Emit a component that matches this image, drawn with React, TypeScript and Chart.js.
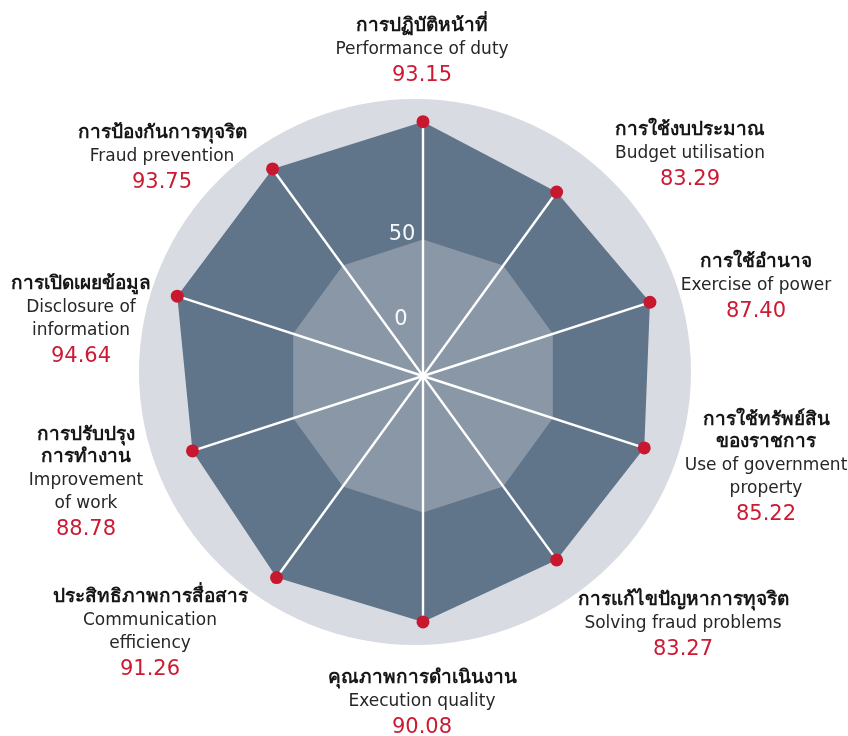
import React, { useEffect, useRef } from 'react';
import { Chart, registerables } from 'chart.js';

Chart.register(...registerables);

// ---------- data ----------
const CATEGORIES_TH: string[][] = [
  ['การปฏิบัติหน้าที่'],
  ['การใช้งบประมาณ'],
  ['การใช้อำนาจ'],
  ['การใช้ทรัพย์สิน', 'ของราชการ'],
  ['การแก้ไขปัญหาการทุจริต'],
  ['คุณภาพการดำเนินงาน'],
  ['ประสิทธิภาพการสื่อสาร'],
  ['การปรับปรุง', 'การทำงาน'],
  ['การเปิดเผยข้อมูล'],
  ['การป้องกันการทุจริต'],
];
const CATEGORIES_EN: string[][] = [
  ['Performance of duty'],
  ['Budget utilisation'],
  ['Exercise of power'],
  ['Use of government', 'property'],
  ['Solving fraud problems'],
  ['Execution quality'],
  ['Communication', 'efficiency'],
  ['Improvement', 'of work'],
  ['Disclosure of', 'information'],
  ['Fraud prevention'],
];
const SCORES: number[] = [93.15, 83.29, 87.4, 85.22, 83.27, 90.08, 91.26, 88.78, 94.64, 93.75];
const INNER_BAND: number[] = [50, 50, 50, 50, 50, 50, 50, 50, 50, 50];
const SCALE_MIN = 0;
const SCALE_MAX = 100;
const TICK_LABELS: string[] = ['50', '0'];

// ---------- layout / style ----------
// first-baseline offset of each label block from the chart centre (px)
const LABEL_OFFSETS: [number, number][] = [
  [-1, -345],
  [267, -241],
  [333, -109],
  [343, 49],
  [260, 229],
  [-1, 307],
  [-273, 226],
  [-337, 64],
  [-342, -87],
  [-261, -238],
];
const FONT_FAMILY = '"DejaVu Sans", "Noto Sans", sans-serif';
const STYLES: Record<string, { font: string; color: string }> = {
  th: { font: `bold 19px ${FONT_FAMILY}`, color: '#161616' },
  en: { font: `17px ${FONT_FAMILY}`, color: '#262626' },
  val: { font: `21px ${FONT_FAMILY}`, color: '#cc1a33' },
};
const GAPS: Record<string, number> = {
  'th-th': 22,
  'th-en': 22.5,
  'en-en': 23.5,
  'en-val': 27,
};
const RED = '#c8182f';
const DARK = '#60748a';
const LIGHT = '#8a97a7';
const BG = '#d8dbe1';

const overlayPlugin = {
  id: 'overlay',
  beforeDraw(chart: any) {
    // soft grey backdrop disc behind the radar
    const scale = chart.scales.r;
    const ctx = chart.ctx;
    const r = scale.getDistanceFromCenterForValue(SCALE_MAX);
    ctx.save();
    ctx.fillStyle = BG;
    ctx.beginPath();
    ctx.ellipse(scale.xCenter - 8, scale.yCenter - 4, r + 3, r, 0, 0, Math.PI * 2);
    ctx.fill();
    ctx.restore();
  },
  beforeDatasetsDraw(chart: any) {
    const scale = chart.scales.r;
    const ctx = chart.ctx;
    const cx = scale.xCenter;
    const cy = scale.yCenter;
    ctx.save();
    ctx.strokeStyle = '#ffffff';
    ctx.lineWidth = 2.4;
    SCORES.forEach((v, i) => {
      const p = scale.getPointPositionForValue(i, v);
      ctx.beginPath();
      ctx.moveTo(cx, cy);
      ctx.lineTo(p.x, p.y);
      ctx.stroke();
    });
    // tick labels
    const r50 = scale.getDistanceFromCenterForValue(50);
    ctx.fillStyle = 'rgba(255,255,255,0.95)';
    ctx.font = `21px ${FONT_FAMILY}`;
    ctx.textAlign = 'center';
    ctx.textBaseline = 'alphabetic';
    ctx.fillText(TICK_LABELS[0], cx - 21, cy - r50 + 0);
    ctx.fillText(TICK_LABELS[1], cx - 22, cy - r50 + 85);
    ctx.restore();
  },
  afterDraw(chart: any) {
    const scale = chart.scales.r;
    const ctx = chart.ctx;
    const cx = scale.xCenter;
    const cy = scale.yCenter;
    ctx.save();
    ctx.textAlign = 'center';
    ctx.textBaseline = 'alphabetic';
    SCORES.forEach((v, i) => {
      const lines: { t: string; k: string }[] = [
        ...CATEGORIES_TH[i].map((t) => ({ t, k: 'th' })),
        ...CATEGORIES_EN[i].map((t) => ({ t, k: 'en' })),
        { t: v.toFixed(2), k: 'val' },
      ];
      const x = cx + LABEL_OFFSETS[i][0];
      let y = cy + LABEL_OFFSETS[i][1];
      lines.forEach((ln, k) => {
        if (k > 0) y += GAPS[`${lines[k - 1].k}-${ln.k}`];
        ctx.font = STYLES[ln.k].font;
        ctx.fillStyle = STYLES[ln.k].color;
        ctx.fillText(ln.t, x, y);
      });
    });
    ctx.restore();
  },
};

export default function App() {
  const ref = useRef<HTMLCanvasElement | null>(null);
  useEffect(() => {
    if (!ref.current) return;
    const chart = new Chart(ref.current, {
      type: 'radar',
      data: {
        labels: CATEGORIES_EN.map((l) => l.join(' ')),
        datasets: [
          {
            label: 'inner',
            data: INNER_BAND,
            backgroundColor: LIGHT,
            borderWidth: 0,
            fill: 'origin',
            pointRadius: 0,
            pointHoverRadius: 0,
          },
          {
            label: 'score',
            data: SCORES,
            backgroundColor: DARK,
            borderWidth: 0,
            fill: 'origin',
            pointRadius: 6.5,
            pointHoverRadius: 6.5,
            pointBackgroundColor: RED,
            pointBorderWidth: 0,
          },
        ],
      },
      options: {
        responsive: false,
        animation: false,
        layout: { padding: { left: 150, right: 152, top: 103, bottom: 87 } },
        plugins: {
          legend: { display: false },
          tooltip: { enabled: false },
          filler: { drawTime: 'beforeDatasetsDraw' },
        },
        scales: {
          r: {
            min: SCALE_MIN,
            max: SCALE_MAX,
            grid: { display: false, circular: true },
            angleLines: { display: false },
            ticks: { display: false, stepSize: 50 },
            pointLabels: { display: false },
          },
        },
      },
      plugins: [overlayPlugin],
    } as any);
    return () => chart.destroy();
  }, []);
  return (
    <div style={{ position: 'absolute', left: 0, top: 0, width: 848, height: 736, background: '#ffffff' }}>
      <canvas ref={ref} width={848} height={736} />
    </div>
  );
}
